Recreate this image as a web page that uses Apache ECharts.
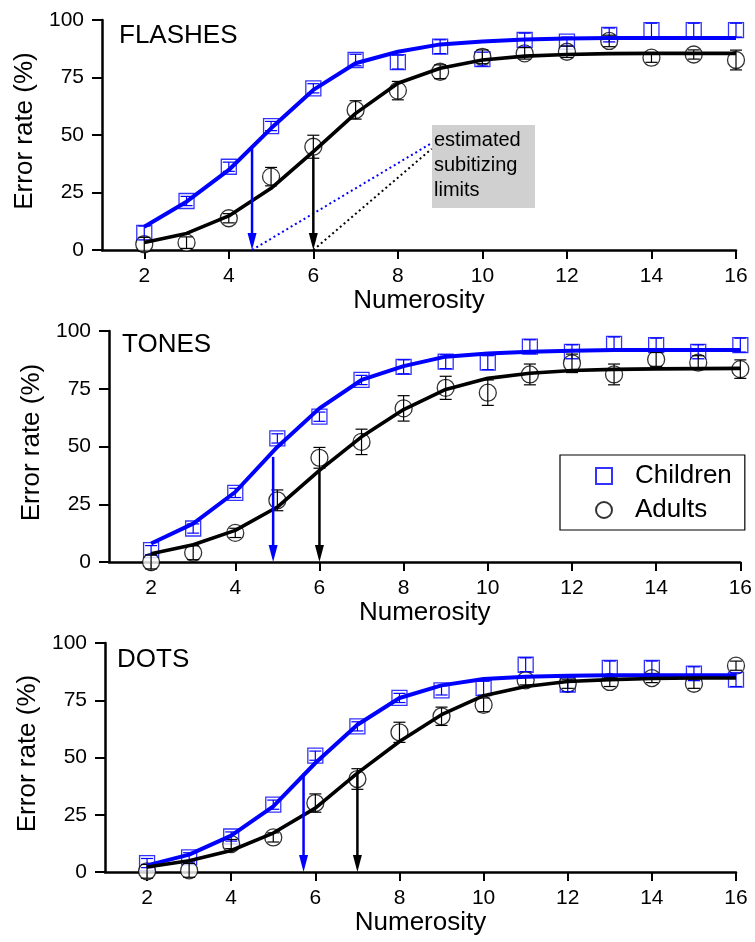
<!DOCTYPE html>
<html>
<head>
<meta charset="utf-8">
<script src="https://cdn.jsdelivr.net/npm/echarts@6/dist/echarts.min.js"></script>
<style>
  html, body { margin: 0; padding: 0; background: #fff; }
  #eChart { width: 755px; height: 942px; }
</style>
</head>
<body>
<div id="eChart"></div>
<script>
// numerosity (x) shared by all panels
const numerosity = [2, 3, 4, 5, 6, 7, 8, 9, 10, 11, 12, 13, 14, 15, 16];
const xTicks = [2, 4, 6, 8, 10, 12, 14, 16];
const panelNames = ["FLASHES", "TONES", "DOTS"];

// FLASHES
const flashesChildren = [7.4, 21.3, 36.2, 53.9, 70.3, 82.6, 81.7, 88.4, 83, 91.3, 90.6, 93.5, 95.6, 95.6, 95.6];
const flashesChildrenErr = [3, 2, 2, 2, 2, 2.5, 3, 3, 3, 3, 2, 3, 3, 3, 3];
const flashesAdults = [2.5, 3.2, 13.8, 31.9, 44.9, 60.9, 69.3, 77.5, 84, 85.5, 86.2, 90.9, 83.6, 85, 82.6];
const flashesAdultsErr = [3, 2.5, 2, 4, 5, 4, 4, 3, 3, 2.5, 2.5, 2.5, 2, 2, 4.3];
const flashesChildrenFit = [10.1, 21, 34.8, 52.9, 69.6, 81.2, 86.2, 89.4, 90.6, 91.5, 92, 92.2, 92.2, 92.2, 92.2];
const flashesAdultsFit = [3.3, 7.2, 14.8, 26.8, 42.8, 59.4, 72.5, 79, 82.6, 84.3, 85, 85.4, 85.5, 85.5, 85.5];

// TONES
const tonesChildren = [5.1, 14.5, 29.9, 53.5, 62.9, 78.8, 84.5, 86.7, 86.3, 93.2, 91, 94.4, 93.9, 91, 93.9];
const tonesChildrenErr = [2, 2, 2, 2, 2, 2, 3, 3, 3, 3, 3, 3, 3, 3, 3];
const tonesAdults = [0, 4, 12.6, 26.7, 45.1, 52, 66.5, 75.4, 73.3, 81.2, 86, 81.2, 87.7, 86.3, 83.5];
const tonesAdultsErr = [3, 3, 2, 4.5, 4.5, 5.5, 5.5, 5, 5.5, 4.5, 4, 4.5, 3, 3, 4];
const tonesChildrenFit = [8, 16.6, 30.3, 49.8, 66.5, 78.8, 84.8, 88.9, 90.3, 91, 91.5, 91.8, 91.8, 91.8, 91.8];
const tonesAdultsFit = [3.6, 7.5, 13.7, 23.8, 39.7, 54.2, 66, 74.7, 79.5, 81.7, 82.9, 83.4, 83.6, 83.7, 83.8];

// DOTS
const dotsChildren = [3.9, 6.4, 15.5, 29.4, 50.8, 63.6, 76, 79.3, 80.3, 90.5, 81.8, 89.1, 89.1, 86.6, 84];
const dotsChildrenErr = [2, 2, 2, 2, 2, 2, 2, 2, 3, 3, 3, 3, 3, 3, 3];
const dotsAdults = [0.3, 0.7, 12.2, 15.1, 30.1, 40.6, 61, 68, 73, 83.7, 82.2, 83, 84.7, 82.2, 90.1];
const dotsAdultsErr = [3, 3, 2, 2, 4, 4.5, 4.4, 4, 3, 2, 2, 2, 2, 2, 2];
const dotsChildrenFit = [2.9, 7.6, 15.9, 28.7, 47.6, 64.3, 76, 81.5, 84.3, 85.3, 85.7, 85.9, 85.9, 85.9, 85.9];
const dotsAdultsFit = [2.2, 4.9, 9.4, 17, 27.9, 43.2, 57, 68.7, 77, 81, 83.2, 84, 84.5, 84.7, 84.7];

// subitizing limit arrows: [x, top of arrow]
const flashesLimits = [[4.55, 45], [6, 41]];
const tonesLimits = [[4.9, 45.5], [6, 40]];
const dotsLimits = [[5.72, 43], [7, 44]];

// dotted guides to the "estimated subitizing limits" note (FLASHES panel)
const guideChildren = [[4.55, 0], [8.8, 46.5]];
const guideAdults = [[6, 0], [8.8, 44]];

const BLUE = "#0000ff";
const BLACK = "#000000";
const FONT = "Liberation Sans";

const panels = [
  { children: flashesChildren, childrenErr: flashesChildrenErr, adults: flashesAdults, adultsErr: flashesAdultsErr,
    childrenFit: flashesChildrenFit, adultsFit: flashesAdultsFit, limits: flashesLimits },
  { children: tonesChildren, childrenErr: tonesChildrenErr, adults: tonesAdults, adultsErr: tonesAdultsErr,
    childrenFit: tonesChildrenFit, adultsFit: tonesAdultsFit, limits: tonesLimits },
  { children: dotsChildren, childrenErr: dotsChildrenErr, adults: dotsAdults, adultsErr: dotsAdultsErr,
    childrenFit: dotsChildrenFit, adultsFit: dotsAdultsFit, limits: dotsLimits },
];

const grids = [
  { left: 102, top: 20, width: 634, height: 230 },
  { left: 109, top: 331, width: 632, height: 231 },
  { left: 105, top: 643, width: 631, height: 229 },
];

const pairs = (ys) => numerosity.map((x, i) => [x, ys[i]]);

function errorBars(idx, ys, errs, color) {
  return {
    type: "custom",
    xAxisIndex: idx,
    yAxisIndex: idx,
    z: 4,
    silent: true,
    data: numerosity.map((x, i) => [x, ys[i] - errs[i], ys[i] + errs[i]]),
    renderItem(params, api) {
      const lo = api.coord([api.value(0), api.value(1)]);
      const hi = api.coord([api.value(0), api.value(2)]);
      const w = 6;
      const style = { stroke: color, lineWidth: 1.2, fill: null };
      return {
        type: "group",
        children: [
          { type: "line", shape: { x1: lo[0], y1: lo[1], x2: hi[0], y2: hi[1] }, style },
          { type: "line", shape: { x1: lo[0] - w, y1: lo[1], x2: lo[0] + w, y2: lo[1] }, style },
          { type: "line", shape: { x1: hi[0] - w, y1: hi[1], x2: hi[0] + w, y2: hi[1] }, style },
        ],
      };
    },
  };
}

function arrows(idx, limits) {
  return {
    type: "custom",
    xAxisIndex: idx,
    yAxisIndex: idx,
    z: 6,
    silent: true,
    data: limits.map((d, i) => ({ value: d, itemStyle: { color: i === 0 ? BLUE : BLACK } })),
    renderItem(params, api) {
      const top = api.coord([api.value(0), api.value(1)]);
      const tip = api.coord([api.value(0), 0]);
      const color = api.visual("color");
      const hw = 4.5, hh = 17;
      return {
        type: "group",
        children: [
          { type: "line", shape: { x1: top[0], y1: top[1], x2: tip[0], y2: tip[1] - hh + 2 },
            style: { stroke: color, lineWidth: 2.5 } },
          { type: "polygon", shape: { points: [[tip[0] - hw, tip[1] - hh], [tip[0] + hw, tip[1] - hh], [tip[0], tip[1]]] },
            style: { fill: color } },
        ],
      };
    },
  };
}

const series = [];
panels.forEach((p, idx) => {
  series.push({
    name: "Children", type: "scatter", xAxisIndex: idx, yAxisIndex: idx, z: 2,
    symbol: "rect", symbolSize: 15,
    itemStyle: { color: "rgba(255,255,255,0)", borderColor: BLUE, borderWidth: 1.3 },
    data: pairs(p.children),
  });
  series.push({
    name: "Adults", type: "scatter", xAxisIndex: idx, yAxisIndex: idx, z: 3,
    symbol: "circle", symbolSize: 17,
    itemStyle: { color: "#ffffff", borderColor: BLACK, borderWidth: 1.3 },
    data: pairs(p.adults),
  });
  series.push(errorBars(idx, p.children, p.childrenErr, BLUE));
  series.push(errorBars(idx, p.adults, p.adultsErr, BLACK));
  series.push({
    name: "fitChildren" + idx, type: "line", xAxisIndex: idx, yAxisIndex: idx, z: 5,
    symbol: "none", lineStyle: { color: BLUE, width: 4 }, data: pairs(p.childrenFit), silent: true,
  });
  series.push({
    name: "fitAdults" + idx, type: "line", xAxisIndex: idx, yAxisIndex: idx, z: 5,
    symbol: "none", lineStyle: { color: BLACK, width: 3.6 }, data: pairs(p.adultsFit), silent: true,
  });
  series.push(arrows(idx, p.limits));
});

series.push({
  name: "guideChildren", type: "line", xAxisIndex: 0, yAxisIndex: 0, z: 4, symbol: "none", silent: true,
  lineStyle: { color: BLUE, width: 2, type: [2, 3] }, data: guideChildren,
});
series.push({
  name: "guideAdults", type: "line", xAxisIndex: 0, yAxisIndex: 0, z: 4, symbol: "none", silent: true,
  lineStyle: { color: BLACK, width: 2, type: [2, 3] }, data: guideAdults,
});

const axisLine = { show: true, onZero: false, lineStyle: { color: "#000", width: 2.5 } };

const options = {
  animation: false,
  backgroundColor: "#fff",
  grid: grids,
  xAxis: grids.map((g, i) => ({
    gridIndex: i, type: "value", min: 1, max: 16,
    name: "Numerosity", nameLocation: "middle", nameGap: 37,
    nameTextStyle: { fontFamily: FONT, fontSize: 26, color: "#000" },
    axisLine,
    axisTick: { show: true, customValues: xTicks, length: 9, lineStyle: { color: "#000", width: 2 } },
    axisLabel: { customValues: xTicks, margin: 16, fontFamily: FONT, fontSize: 21, color: "#000" },
    splitLine: { show: false },
  })),
  yAxis: grids.map((g, i) => ({
    gridIndex: i, type: "value", min: 0, max: 100, interval: 25,
    name: "Error rate (%)", nameLocation: "middle", nameGap: 64,
    nameTextStyle: { fontFamily: FONT, fontSize: 26, color: "#000", padding: [0, 0, 0, 8] },
    axisLine,
    axisTick: { show: true, length: 10, lineStyle: { color: "#000", width: 2 } },
    axisLabel: { margin: 18, fontFamily: FONT, fontSize: 21, color: "#000" },
    splitLine: { show: false },
  })),
  legend: {
    data: [{ name: "Children", icon: "rect" }, { name: "Adults", icon: "circle" }],
    orient: "vertical", left: 560, top: 455,
    itemWidth: 16, itemHeight: 16, itemGap: 6,
    padding: [7, 13, 6, 35],
    borderColor: "#000", borderWidth: 1.2, borderRadius: 0,
    selectedMode: false,
    textStyle: { fontFamily: FONT, fontSize: 26, color: "#000", lineHeight: 28, padding: [0, 0, 0, 18] },
  },
  graphic: [
    { type: "text", left: 119, top: 23, style: { text: panelNames[0], font: "26px " + FONT, fill: "#000" } },
    { type: "text", left: 122, top: 332, style: { text: panelNames[1], font: "26px " + FONT, fill: "#000" } },
    { type: "text", left: 117, top: 647, style: { text: panelNames[2], font: "26px " + FONT, fill: "#000" } },
    { type: "rect", left: 432, top: 125, shape: { width: 103, height: 83 }, style: { fill: "#d0d0d0" }, z: 1 },
    { type: "text", left: 434, top: 128, z: 2,
      style: { text: "estimated\nsubitizing\nlimits", font: "20px " + FONT, fill: "#000", lineHeight: 25 } },
  ],
  series,
};

const myChart = echarts.init(document.getElementById("eChart"), null, { renderer: "canvas" });
myChart.setOption(options);
</script>
</body>
</html>
